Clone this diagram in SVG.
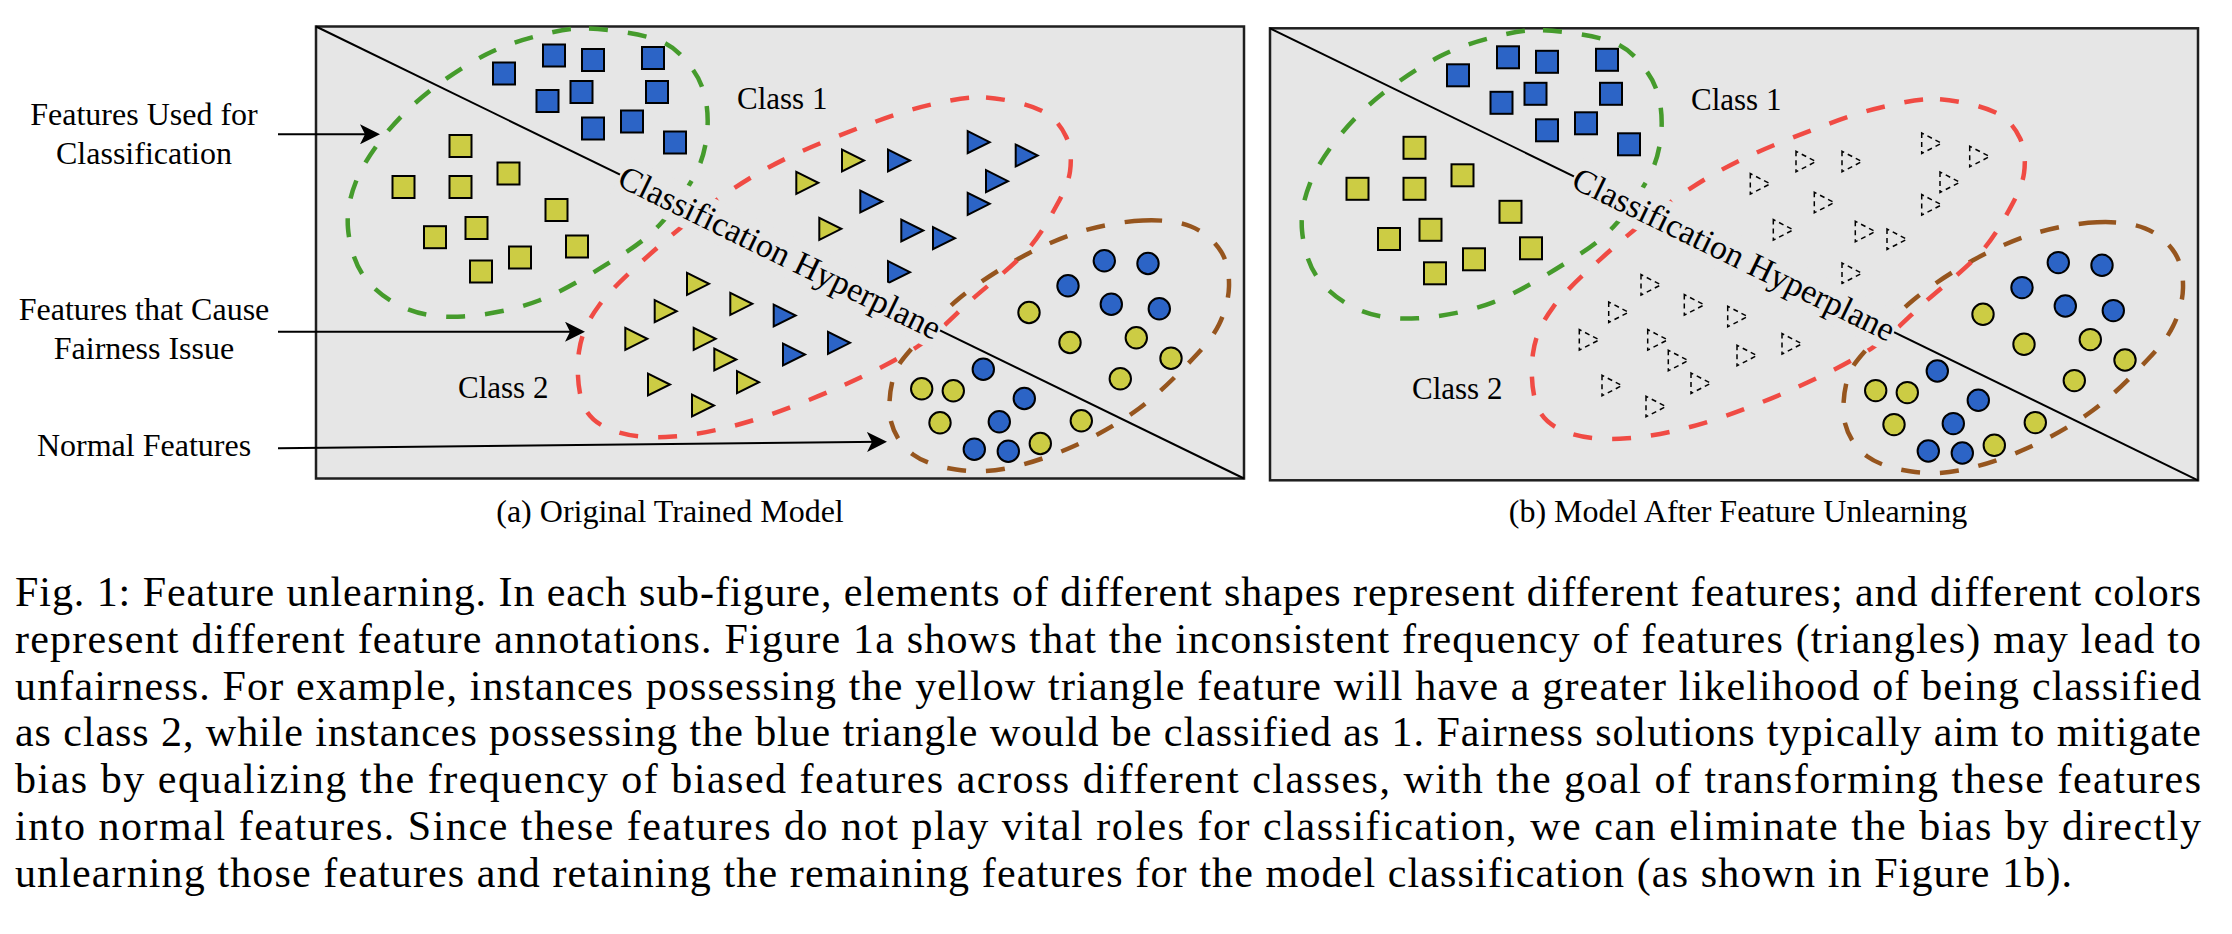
<svg xmlns="http://www.w3.org/2000/svg" xmlns:xlink="http://www.w3.org/1999/xlink" width="2232" height="934" viewBox="0 0 2232 934">
<style>
.bg{fill:#ffffff}
.panel{fill:#e6e6e6;stroke:#1f1f1f;stroke-width:2.5}
.fb{fill:#2c64c6;stroke:#000;stroke-width:2}
.fy{fill:#cccc44;stroke:#000;stroke-width:2}
.td{fill:none;stroke:#000;stroke-width:1.5;stroke-dasharray:5 4}
.blob{fill:none;stroke-width:4.5;stroke-dasharray:19 20}
.bg-g{stroke:#459b2c}
.bg-r{stroke:#f04b44}
.bg-br{stroke:#96551e}
.hyp{stroke:#000;stroke-width:2}
.conn{stroke:#000;stroke-width:2;fill:none}
.txt{font-family:"Liberation Serif","Times New Roman",serif;fill:#000}
.lbl{font-size:32px}
.cls{font-size:31px}
.hyt{font-size:34px}
.sub{font-size:32px}
.cap{font-size:42px}
</style>
<defs>
<marker id="ah" viewBox="0 0 20 20" refX="15" refY="10" markerWidth="20" markerHeight="20" markerUnits="userSpaceOnUse" orient="auto">
<path d="M0,0 L20,10 L0,20 L5,10 Z" fill="#000"/>
</marker>
<path id="tf" d="M1,1 L1,23 L23,12 Z"/>
<path id="tdd" d="M1,1 L1,21.5 L21,11.25 Z"/>
<g id="squares">
<rect class="fb" x="177" y="36" width="22" height="22"/>
<rect class="fb" x="227" y="18" width="22" height="22"/>
<rect class="fb" x="266" y="22.5" width="22" height="22"/>
<rect class="fb" x="326" y="20.5" width="22" height="22"/>
<rect class="fb" x="220.5" y="63.5" width="22" height="22"/>
<rect class="fb" x="254.5" y="54.5" width="22" height="22"/>
<rect class="fb" x="330" y="54.5" width="22" height="22"/>
<rect class="fb" x="266" y="91" width="22" height="22"/>
<rect class="fb" x="305" y="84" width="22" height="22"/>
<rect class="fb" x="348" y="105" width="22" height="22"/>
<rect class="fy" x="133.5" y="108.5" width="22" height="22"/>
<rect class="fy" x="76.5" y="149.5" width="22" height="22"/>
<rect class="fy" x="133.5" y="149.5" width="22" height="22"/>
<rect class="fy" x="181.5" y="136" width="22" height="22"/>
<rect class="fy" x="229.5" y="172.5" width="22" height="22"/>
<rect class="fy" x="108" y="199.7" width="22" height="22"/>
<rect class="fy" x="149.5" y="190.5" width="22" height="22"/>
<rect class="fy" x="250" y="209" width="22" height="22"/>
<rect class="fy" x="193" y="220" width="22" height="22"/>
<rect class="fy" x="154" y="234" width="22" height="22"/>
</g>
<g id="circles">
<circle class="fb" cx="788.3" cy="234.3" r="10.7"/>
<circle class="fb" cx="832" cy="237" r="10.7"/>
<circle class="fb" cx="752" cy="259.3" r="10.7"/>
<circle class="fb" cx="795.3" cy="277.7" r="10.7"/>
<circle class="fb" cx="843.3" cy="282.3" r="10.7"/>
<circle class="fb" cx="667.3" cy="342.7" r="10.7"/>
<circle class="fb" cx="708.3" cy="372" r="10.7"/>
<circle class="fb" cx="683.3" cy="395.3" r="10.7"/>
<circle class="fb" cx="658.3" cy="422.7" r="10.7"/>
<circle class="fb" cx="692.3" cy="424.7" r="10.7"/>
<circle class="fy" cx="713" cy="286" r="10.7"/>
<circle class="fy" cx="754" cy="316" r="10.7"/>
<circle class="fy" cx="820.3" cy="311.3" r="10.7"/>
<circle class="fy" cx="855" cy="331.7" r="10.7"/>
<circle class="fy" cx="804.3" cy="352.3" r="10.7"/>
<circle class="fy" cx="605.7" cy="362.3" r="10.7"/>
<circle class="fy" cx="637.3" cy="364.3" r="10.7"/>
<circle class="fy" cx="624" cy="396.3" r="10.7"/>
<circle class="fy" cx="724.3" cy="417" r="10.7"/>
<circle class="fy" cx="765.3" cy="394.3" r="10.7"/>
</g>
<g id="blobs">
<path class="blob bg-g" d="M273,2 C293,2.8 325.8,7.3 343,14 C360.2,20.7 368.2,31.8 376,42 C383.8,52.2 387.7,62.8 390,75 C392.3,87.2 392.2,102.2 390,115 C387.8,127.8 384.8,138 377,152 C369.2,166 355.8,185.7 343,199 C330.2,212.3 320,219.5 300,232 C280,244.5 248.5,264.3 223,274 C197.5,283.7 169.2,288.7 147,290 C124.8,291.3 106.5,288.7 90,282 C73.5,275.3 57.7,263.3 48,250 C38.3,236.7 33.3,217.8 32,202 C30.7,186.2 33.7,170.8 40,155 C46.3,139.2 57.8,122 70,107 C82.2,92 96.3,78.2 113,65 C129.7,51.8 151.7,37.3 170,28 C188.3,18.7 205.8,13.3 223,9 C240.2,4.7 253,1.2 273,2 Z"/>
<path class="blob bg-br" d="M827,194 C845.3,193.2 862,194.8 875,200 C888,205.2 898.7,215 905,225 C911.3,235 913.3,247.8 913,260 C912.7,272.2 909,286 903,298 C897,310 890.3,318 877,332 C863.7,346 843,367.3 823,382 C803,396.7 779.2,410 757,420 C734.8,430 709.5,438.2 690,442 C670.5,445.8 655.5,445.3 640,443 C624.5,440.7 607.8,436 597,428 C586.2,420 578.2,408.2 575,395 C571.8,381.8 573.8,362 578,349 C582.2,336 589.2,329.8 600,317 C610.8,304.2 625.8,286.2 643,272 C660.2,257.8 682.7,243.2 703,232 C723.3,220.8 744.3,211.3 765,205 C785.7,198.7 808.7,194.8 827,194 Z"/>
<path class="blob bg-r" d="M670,71 C687.5,72.2 711.7,77.5 725,84 C738.3,90.5 745.2,99.8 750,110 C754.8,120.2 755.7,133.3 754,145 C752.3,156.7 747.3,166.7 740,180 C732.7,193.3 723.8,209.7 710,225 C696.2,240.3 674.8,256.3 657,272 C639.2,287.7 624.7,304.5 603,319 C581.3,333.5 555.3,346.3 527,359 C498.7,371.7 461.3,386.5 433,395 C404.7,403.5 379.2,408.3 357,410 C334.8,411.7 314.8,410 300,405 C285.2,400 274.2,393.3 268,380 C261.8,366.7 260.5,341.8 263,325 C265.5,308.2 270.7,295.7 283,279 C295.3,262.3 317,242.8 337,225 C357,207.2 380.8,187.5 403,172 C425.2,156.5 443.8,144.8 470,132 C496.2,119.2 535,104.2 560,95 C585,85.8 601.7,81 620,77 C638.3,73 652.5,69.8 670,71 Z"/>
</g>
<g id="hyperplane">
<line class="hyp" x1="0" y1="0" x2="928" y2="452"/>
<g transform="translate(464,226) rotate(25.97)">
<rect x="-178" y="-20" width="356" height="41" fill="#e6e6e6"/>
<text class="txt hyt" x="0" y="0" text-anchor="middle" dominant-baseline="central">Classification Hyperplane</text>
</g>
</g>
<g id="classes">
<text class="txt cls" x="421" y="82">Class 1</text>
<text class="txt cls" x="142" y="371">Class 2</text>
</g>
</defs>
<rect class="bg" x="0" y="0" width="2232" height="934"/>

<g id="panel-a" transform="translate(316,26.5)">
<rect class="panel" x="0" y="0" width="928" height="452"/>
<use href="#squares"/>
<g id="tri-a">
<use href="#tf" class="fy" x="370" y="245.3"/>
<use href="#tf" class="fy" x="337.7" y="272.7"/>
<use href="#tf" class="fy" x="413.3" y="265.3"/>
<use href="#tf" class="fb" x="456.7" y="277"/>
<use href="#tf" class="fy" x="308.3" y="300.3"/>
<use href="#tf" class="fy" x="376.7" y="300.3"/>
<use href="#tf" class="fy" x="397.3" y="321"/>
<use href="#tf" class="fb" x="466" y="316"/>
<use href="#tf" class="fy" x="331" y="346"/>
<use href="#tf" class="fy" x="420" y="343.7"/>
<use href="#tf" class="fy" x="375" y="367"/>
<use href="#tf" class="fy" x="479.3" y="144.3"/>
<use href="#tf" class="fy" x="525" y="122"/>
<use href="#tf" class="fb" x="571" y="122"/>
<use href="#tf" class="fb" x="650.7" y="103.7"/>
<use href="#tf" class="fb" x="698.7" y="117"/>
<use href="#tf" class="fb" x="669" y="142.7"/>
<use href="#tf" class="fb" x="543.3" y="163"/>
<use href="#tf" class="fb" x="650.7" y="165.3"/>
<use href="#tf" class="fy" x="502.3" y="190.3"/>
<use href="#tf" class="fb" x="584.3" y="192"/>
<use href="#tf" class="fb" x="616" y="199.7"/>
<use href="#tf" class="fb" x="571" y="233.7"/>
<use href="#tf" class="fb" x="511" y="304.3"/>
</g>
<use href="#circles"/>
<use href="#blobs"/>
<use href="#hyperplane"/>
<use href="#classes"/>
</g>

<g id="panel-b" transform="translate(1270,28.3)">
<rect class="panel" x="0" y="0" width="928" height="452"/>
<use href="#squares"/>
<g id="tri-b" class="td">
<use href="#tdd" x="370" y="245.3"/>
<use href="#tdd" x="337.7" y="272.7"/>
<use href="#tdd" x="413.3" y="265.3"/>
<use href="#tdd" x="456.7" y="277"/>
<use href="#tdd" x="308.3" y="300.3"/>
<use href="#tdd" x="376.7" y="300.3"/>
<use href="#tdd" x="397.3" y="321"/>
<use href="#tdd" x="466" y="316"/>
<use href="#tdd" x="331" y="346"/>
<use href="#tdd" x="420" y="343.7"/>
<use href="#tdd" x="375" y="367"/>
<use href="#tdd" x="479.3" y="144.3"/>
<use href="#tdd" x="525" y="122"/>
<use href="#tdd" x="571" y="122"/>
<use href="#tdd" x="650.7" y="103.7"/>
<use href="#tdd" x="698.7" y="117"/>
<use href="#tdd" x="669" y="142.7"/>
<use href="#tdd" x="543.3" y="163"/>
<use href="#tdd" x="650.7" y="165.3"/>
<use href="#tdd" x="502.3" y="190.3"/>
<use href="#tdd" x="584.3" y="192"/>
<use href="#tdd" x="616" y="199.7"/>
<use href="#tdd" x="571" y="233.7"/>
<use href="#tdd" x="511" y="304.3"/>
</g>
<use href="#circles"/>
<use href="#blobs"/>
<use href="#hyperplane"/>
<use href="#classes"/>
</g>

<g id="side-labels" class="txt lbl" text-anchor="middle">
<text x="144" y="125">Features Used for</text>
<text x="144" y="164">Classification</text>
<text x="144" y="320">Features that Cause</text>
<text x="144" y="359">Fairness Issue</text>
<text x="144" y="456">Normal Features</text>
</g>

<g id="connectors" class="conn">
<line x1="278" y1="134.3" x2="375" y2="134.3" marker-end="url(#ah)"/>
<line x1="278" y1="331.7" x2="580" y2="331.7" marker-end="url(#ah)"/>
<line x1="278" y1="448.3" x2="882" y2="441.8" marker-end="url(#ah)"/>
</g>

<g id="subcaptions" class="txt sub" text-anchor="middle">
<text x="670" y="522">(a) Original Trained Model</text>
<text x="1738" y="522">(b) Model After Feature Unlearning</text>
</g>

<g id="caption" class="txt cap">
<text x="15" y="606" textLength="2186" lengthAdjust="spacing">Fig. 1: Feature unlearning. In each sub-figure, elements of different shapes represent different features; and different colors</text>
<text x="15" y="652.8" textLength="2186" lengthAdjust="spacing">represent different feature annotations. Figure 1a shows that the inconsistent frequency of features (triangles) may lead to</text>
<text x="15" y="699.6" textLength="2186" lengthAdjust="spacing">unfairness. For example, instances possessing the yellow triangle feature will have a greater likelihood of being classified</text>
<text x="15" y="746.4" textLength="2186" lengthAdjust="spacing">as class 2, while instances possessing the blue triangle would be classified as 1. Fairness solutions typically aim to mitigate</text>
<text x="15" y="793.2" textLength="2186" lengthAdjust="spacing">bias by equalizing the frequency of biased features across different classes, with the goal of transforming these features</text>
<text x="15" y="840" textLength="2186" lengthAdjust="spacing">into normal features. Since these features do not play vital roles for classification, we can eliminate the bias by directly</text>
<text x="15" y="886.8" textLength="2057" lengthAdjust="spacing">unlearning those features and retaining the remaining features for the model classification (as shown in Figure 1b).</text>
</g>
</svg>
